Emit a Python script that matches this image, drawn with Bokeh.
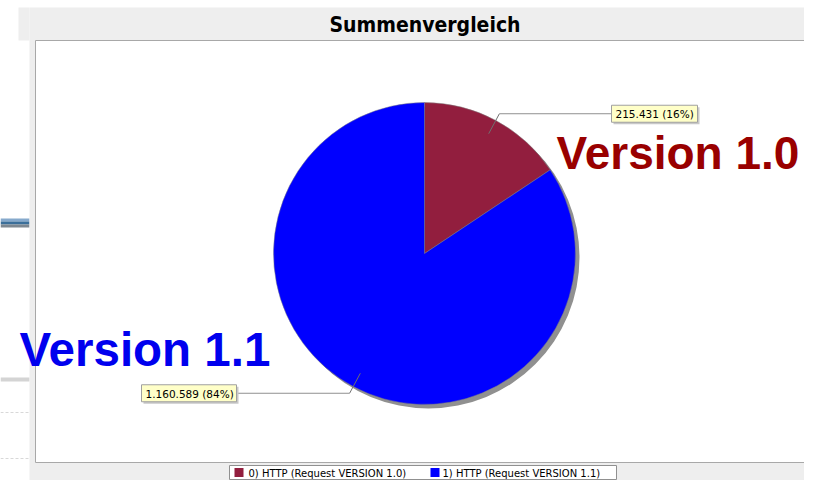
import numpy as np
from bokeh.plotting import figure
from bokeh.models import Range1d
from bokeh.core.properties import value
from bokeh.embed import file_html
from bokeh.resources import INLINE

# ---- data ----
title = "Summenvergleich"
categories = ["0) HTTP (Request VERSION 1.0)", "1) HTTP (Request VERSION 1.1)"]
values = [215431, 1160589]
value_labels = ["215.431", "1.160.589"]
colors = ["#921e3e", "#0000ff"]
overlay_texts = ["Version 1.0", "Version 1.1"]
overlay_colors = ["#990000", "#0000ee"]

# ---- layout helpers (image pixel coordinates, y downward) ----
IMG_H = 496
def Y(y):
    return IMG_H - np.asarray(y, dtype=float)

p = figure(width=804, height=480, x_range=Range1d(0, 804), y_range=Range1d(16, 496),
           output_backend="svg", toolbar_location=None, min_border=0)
p.axis.visible = False
p.grid.visible = False
p.outline_line_color = None
p.background_fill_color = "white"
p.border_fill_color = "white"

# background artefacts of the surrounding window (left side)
p.quad(left=[0, 0, 0], right=[29, 29, 29], top=Y([218, 221, 224]), bottom=Y([221, 224, 227]),
       fill_color=["#86a9cc", "#3b6f9a", "#7d8790"], line_color=None)
p.quad(left=[0], right=[29], top=Y([377]), bottom=Y([381]), fill_color="#d4d4d4", line_color=None)
p.segment(x0=[0, 0], y0=Y([412, 458]), x1=[29, 29], y1=Y([412, 458]),
          line_color="#d8d8d8", line_dash="3 2", line_width=1)

# grey chart panel
p.quad(left=[29], right=[819], top=Y([7]), bottom=Y([496]), fill_color="#eeeeee", line_color=None)
p.quad(left=[18], right=[29], top=Y([7]), bottom=Y([40]), fill_color="#eeeeee", line_color=None)
# plot area
p.quad(left=[35], right=[814], top=Y([40]), bottom=Y([462]), fill_color="white",
       line_color="#a8a8a8", line_width=1)

# title
p.text(x=[424.5], y=Y([24]), text=[title], text_align="center", text_baseline="middle",
       text_font=value("DejaVu Sans Condensed"), text_font_style="bold", text_font_size="21px",
       text_color="#000000")

# ---- pie ----
cx, cy, r = 424, 253, 151
vals = np.array(values, dtype=float)
frac = vals / vals.sum()
cum = np.concatenate([[0], np.cumsum(frac)])
start = np.deg2rad(90 - cum[:-1] * 360)
end = np.deg2rad(90 - cum[1:] * 360)

# shadow
p.wedge(x=[cx + 4], y=Y([cy + 4]), radius=r, start_angle=0, end_angle=2 * np.pi,
        fill_color="#909090", line_color=None)
p.wedge(x=[cx] * len(vals), y=[float(Y(cy))] * len(vals), radius=r,
        start_angle=start, end_angle=end, direction="clock",
        fill_color=colors, line_color="#808080", line_width=0.5)

# labels with leader lines
mid = (start + end) / 2
pct = [f"{int(round(f * 100))}%" for f in frac]
label_texts = [f"{v} ({q})" for v, q in zip(value_labels, pct)]
box_w = [86, 95]
box_h = 17
side = np.sign(np.cos(mid))
ax = cx + 0.9 * r * np.cos(mid)
ay = cy - 0.9 * r * np.sin(mid)
bx = cx + 1.05 * r * np.cos(mid)
by = cy - 1.05 * r * np.sin(mid)
box_near = [611, 236]
lx_end = np.array(box_near, dtype=float)
p.segment(x0=ax, y0=Y(ay), x1=bx, y1=Y(by), line_color="#707070", line_width=1)
p.segment(x0=bx, y0=Y(by), x1=lx_end, y1=Y(by), line_color="#909090", line_width=1)
box_left = np.where(side > 0, lx_end, lx_end - np.array(box_w))
box_right = box_left + np.array(box_w)
# box shadow
p.quad(left=box_left + 2, right=box_right + 2, top=Y(by - box_h / 2 + 2), bottom=Y(by + box_h / 2 + 2),
       fill_color="#c8c8c8", line_color=None)
p.quad(left=box_left, right=box_right, top=Y(by - box_h / 2), bottom=Y(by + box_h / 2),
       fill_color="#ffffc8", line_color="#a0a0a0", line_width=1)
p.text(x=box_left + 4, y=Y(by + 0.5), text=label_texts, text_align="left", text_baseline="middle",
       text_font=value("DejaVu Sans"), text_font_size="10.5px", text_color="#000000")

# overlay annotations
p.text(x=[556], y=Y([152]), text=overlay_texts[:1], text_align="left", text_baseline="middle",
       text_font=value("Liberation Sans"), text_font_style="bold", text_font_size="46px",
       text_color=overlay_colors[0])
p.text(x=[19], y=Y([349]), text=overlay_texts[1:], text_align="left", text_baseline="middle",
       text_font=value("Liberation Sans"), text_font_style="bold", text_font_size="47.5px",
       text_color=overlay_colors[1])

# legend
p.quad(left=[229], right=[616], top=Y([465]), bottom=Y([479]), fill_color="white",
       line_color="#909090", line_width=1)
sq_x = [234, 430]
tx = [248, 442]
p.quad(left=sq_x, right=[s + 9 for s in sq_x], top=Y([467.5, 467.5]), bottom=Y([476.5, 476.5]),
       fill_color=colors, line_color=None)
p.text(x=tx, y=Y([472.5, 472.5]), text=categories, text_align="left", text_baseline="middle",
       text_font=value("DejaVu Sans"), text_font_size="10px", text_color="#000000")

open("out.html", "w").write(file_html(p, INLINE))
